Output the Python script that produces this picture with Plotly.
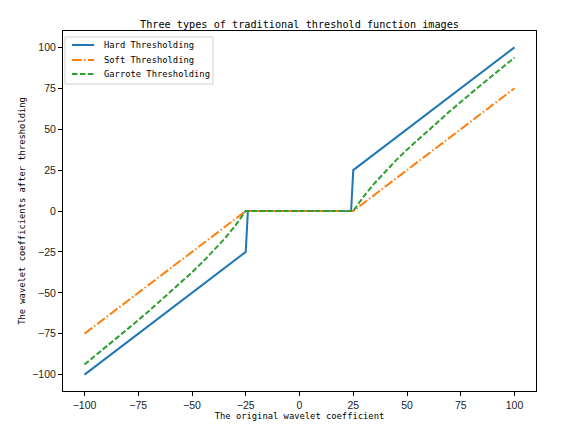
import plotly.graph_objects as go

# Data
hard_x = [-100, -25, -24, 24, 25, 100]
hard_y = [-100, -25, 0, 0, 25, 100]

soft_x = [-100, -25, 25, 100]
soft_y = [-75, 0, 0, 75]

garrote_x = [-100, -90, -80, -70, -60, -50, -45, -40, -35, -30, -27, -25,
             25, 27, 30, 35, 40, 45, 50, 60, 70, 80, 90, 100]
garrote_y = [-93.75, -83.06, -72.19, -61.07, -49.58, -37.5, -31.11, -24.38, -17.14, -9.17, -3.85, 0,
             0, 3.85, 9.17, 17.14, 24.38, 31.11, 37.5, 49.58, 61.07, 72.19, 83.06, 93.75]

series_names = ["Hard Thresholding", "Soft Thresholding", "Garrote Thresholding"]

tick_vals = [-100, -75, -50, -25, 0, 25, 50, 75, 100]
tick_text = ["\u2212100", "\u221275", "\u221250", "\u221225", "0", "25", "50", "75", "100"]

title = "Three types of traditional threshold function images"
x_title = "The original wavelet coefficient"
y_title = "The wavelet coefficients after thresholding"

mono = "DejaVu Sans Mono, Liberation Mono, monospace"
sans = "Liberation Sans Narrow, Liberation Sans, Arial, sans-serif"

colors = ["#1f77b4", "#ff7f0e", "#2ca02c"]
dashes = ["solid", "9.6px,2.4px,1.5px,2.4px", "5.5px,2.4px"]

W, H = 562, 436
ML, MR, MT, MB = 55, 34, 23, 53
PW, PH = W - ML - MR, H - MT - MB


def px(fx):
    return (fx - ML) / PW


def py(fy):
    return 1 - (fy - MT) / PH


fig = go.Figure()
for xs, ys, name, c, d in [(hard_x, hard_y, series_names[0], colors[0], dashes[0]),
                           (soft_x, soft_y, series_names[1], colors[1], dashes[1]),
                           (garrote_x, garrote_y, series_names[2], colors[2], dashes[2])]:
    fig.add_trace(go.Scatter(x=xs, y=ys, mode="lines", name=name,
                             line=dict(color=c, width=2, dash=d), showlegend=False))

# custom compact legend
fig.add_shape(type="rect", xref="paper", yref="paper",
              x0=px(57), x1=px(205), y0=py(76), y1=py(29),
              line=dict(color="#d0d0d0", width=1), fillcolor="rgba(255,255,255,0.8)", layer="above")
row_y = [37, 52, 66]
for i, name in enumerate(series_names):
    fig.add_shape(type="line", xref="paper", yref="paper",
                  x0=px(64), x1=px(86), y0=py(row_y[i]), y1=py(row_y[i]),
                  line=dict(color=colors[i], width=2, dash=dashes[i]), layer="above")
    fig.add_annotation(xref="paper", yref="paper", x=px(94), y=py(row_y[i]),
                       xanchor="left", yanchor="middle", showarrow=False, text=name,
                       font=dict(family=mono, size=8.8, color="black"))

axis_common = dict(
    showline=True, linecolor="black", linewidth=1, mirror=True,
    ticks="outside", ticklen=4, tickcolor="black", tickwidth=1,
    showgrid=False, zeroline=False,
    tickvals=tick_vals, ticktext=tick_text,
    tickfont=dict(family=sans, size=10.5, color="#222222"),
)

fig.update_layout(
    width=W, height=H,
    margin=dict(l=ML, r=MR, t=MT, b=MB),
    paper_bgcolor="white", plot_bgcolor="white",
    title=dict(text=title, x=0.5, xanchor="center", y=1 - 16 / H, yanchor="middle",
               xref="paper",
               font=dict(family=mono, size=10.2, color="black")),
    xaxis=dict(range=[-110, 110], **axis_common,
               title=dict(text=x_title, font=dict(family=mono, size=8.8, color="black"), standoff=2)),
    yaxis=dict(range=[-110, 110], **axis_common,
               title=dict(text=y_title, font=dict(family=mono, size=8.8, color="black"), standoff=5)),
    showlegend=False,
)

fig.write_html("out.html")
